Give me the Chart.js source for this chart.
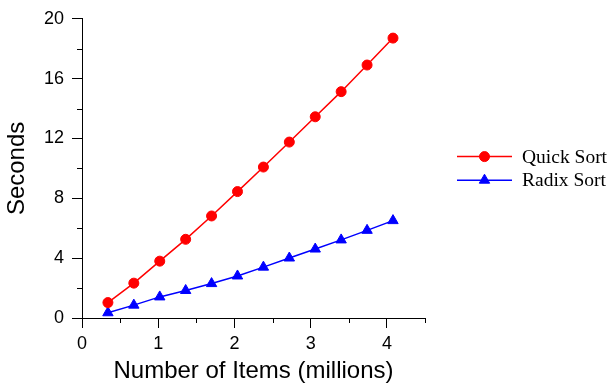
<!DOCTYPE html>
<html>
<head>
<meta charset="utf-8">
<script src="https://cdn.jsdelivr.net/npm/chart.js@4"></script>
<style>
  body { margin: 0; background: #fff; }
</style>
</head>
<body>
<canvas id="sorts" width="611" height="386"></canvas>
<script>
// number of items, millions
const items = [0.34, 0.68, 1.02, 1.36, 1.70, 2.04, 2.38, 2.72, 3.06, 3.40, 3.74, 4.08];
// seconds
const quickSort = [1.03, 2.33, 3.80, 5.26, 6.82, 8.45, 10.09, 11.76, 13.45, 15.13, 16.91, 18.71];
const radixSort = [0.35, 0.86, 1.41, 1.84, 2.30, 2.81, 3.40, 4.01, 4.61, 5.22, 5.86, 6.51];

const xMinorTicks = [0.5, 1.5, 2.5, 3.5, 4.5];
const yMinorTicks = [2, 6, 10, 14, 18];

Chart.defaults.font.family = "'Liberation Sans', Arial, sans-serif";
Chart.defaults.color = '#000';

const toPoints = (ys) => ys.map((y, i) => ({x: items[i], y: y}));

// short ticks halfway between the labelled ones
const minorTicks = {
  id: 'minorTicks',
  afterDraw(chart) {
    const ctx = chart.ctx;
    const xs = chart.scales.x, ys = chart.scales.y;
    ctx.save();
    ctx.strokeStyle = '#000';
    ctx.lineWidth = 1;
    ctx.beginPath();
    xMinorTicks.forEach(v => {
      const px = Math.round(xs.getPixelForValue(v)) + 0.5;
      ctx.moveTo(px, xs.top);
      ctx.lineTo(px, xs.top + 5);
    });
    yMinorTicks.forEach(v => {
      const py = Math.round(ys.getPixelForValue(v)) + 0.5;
      ctx.moveTo(ys.right, py);
      ctx.lineTo(ys.right - 5, py);
    });
    ctx.stroke();
    ctx.restore();
  }
};

// legend drawn as line + marker, like the original
const lineLegend = {
  id: 'lineLegend',
  afterDraw(chart) {
    const ctx = chart.ctx;
    const area = chart.chartArea;
    const sets = chart.data.datasets;
    const x0 = area.right + 32, len = 55, rowH = 23.6;
    const midY = (area.top + area.bottom) / 2;
    ctx.save();
    ctx.font = "19.5px 'Liberation Serif', 'Times New Roman', serif";
    ctx.textBaseline = 'middle';
    ctx.textAlign = 'left';
    sets.forEach((ds, i) => {
      const y = midY + (i - (sets.length - 1) / 2) * rowH;
      ctx.strokeStyle = ds.borderColor;
      ctx.lineWidth = ds.borderWidth;
      ctx.beginPath();
      ctx.moveTo(x0, y);
      ctx.lineTo(x0 + len, y);
      ctx.stroke();
      ctx.fillStyle = ds.pointBackgroundColor;
      ctx.strokeStyle = ds.pointBorderColor;
      ctx.lineWidth = 1;
      Chart.helpers.drawPoint(ctx, {
        pointStyle: ds.pointStyle,
        radius: ds.pointRadius,
        rotation: 0,
        borderWidth: 1
      }, x0 + len / 2, y);
      ctx.fillStyle = '#000';
      ctx.fillText(ds.label, x0 + len + 10, y + 1);
    });
    ctx.restore();
  }
};

new Chart(document.getElementById('sorts'), {
  type: 'line',
  data: {
    datasets: [{
      label: 'Quick Sort',
      data: toPoints(quickSort),
      borderColor: '#ff0000',
      borderWidth: 1.5,
      pointStyle: 'circle',
      pointRadius: 5,
      pointBackgroundColor: '#ff0000',
      pointBorderColor: '#ff0000',
      pointBorderWidth: 1
    }, {
      label: 'Radix Sort',
      data: toPoints(radixSort),
      borderColor: '#0000ff',
      borderWidth: 1.5,
      pointStyle: 'triangle',
      pointRadius: 6,
      pointBackgroundColor: '#0000ff',
      pointBorderColor: '#0000ff',
      pointBorderWidth: 1
    }]
  },
  options: {
    responsive: false,
    animation: false,
    layout: { padding: { top: 13, right: 186, left: 0, bottom: 0 } },
    plugins: {
      legend: { display: false },
      tooltip: { enabled: false }
    },
    scales: {
      x: {
        type: 'linear',
        min: 0,
        max: 4.5,
        afterFit: (s) => { s.height = 68; },
        ticks: { stepSize: 1, includeBounds: false, padding: 5, font: { size: 18 } },
        grid: { drawOnChartArea: false, drawTicks: true, tickLength: 10, color: '#000' },
        border: { display: true, color: '#000', width: 1 },
        title: { display: true, text: 'Number of Items (millions)', font: { size: 24 }, padding: { top: 0, bottom: 0 } }
      },
      y: {
        min: 0,
        max: 20,
        afterFit: (s) => { s.width = 82; },
        ticks: { stepSize: 4, padding: 8, font: { size: 18 } },
        grid: { drawOnChartArea: false, drawTicks: true, tickLength: 10, color: '#000' },
        border: { display: true, color: '#000', width: 1 },
        title: { display: true, text: 'Seconds', font: { size: 24 }, padding: { top: 3, bottom: 0 } }
      }
    }
  },
  plugins: [minorTicks, lineLegend]
});
</script>
</body>
</html>
